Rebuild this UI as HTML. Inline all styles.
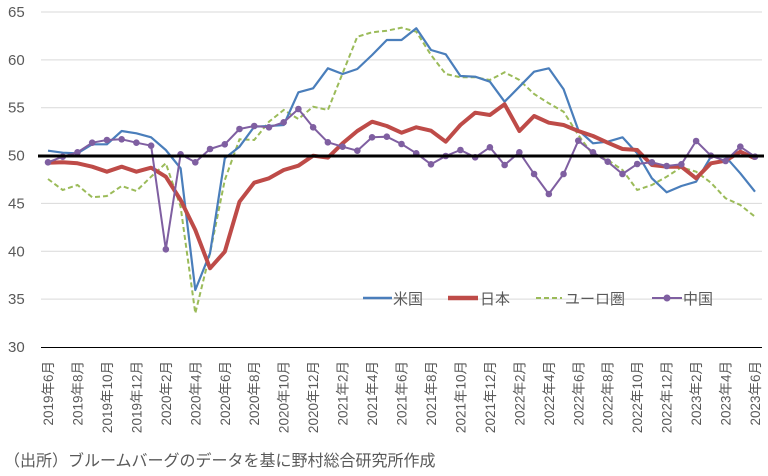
<!DOCTYPE html>
<html><head><meta charset="utf-8"><style>
body{margin:0;background:#fff;width:768px;height:476px;overflow:hidden}
svg{display:block}
text{font-family:"Liberation Sans","Noto Sans CJK JP",sans-serif;fill:#595959}
</style></head><body>
<svg id="c" width="768" height="476" viewBox="0 0 768 476" xmlns="http://www.w3.org/2000/svg">
<g id="grid"></g>
<line x1="41" y1="347.5" x2="762" y2="347.5" stroke="#000" stroke-width="1"/>
<g id="series"></g>
<line x1="38" y1="156" x2="764" y2="156" stroke="#000" stroke-width="3"/>
<g id="labels"></g>
<g>
<line x1="363" y1="298" x2="392" y2="298" stroke="#4a7ebb" stroke-width="2.5"/>
<text x="393" y="304" font-size="15">米国</text>
<line x1="448" y1="298" x2="478" y2="298" stroke="#be4b48" stroke-width="4.5"/>
<text x="480" y="304" font-size="15">日本</text>
<line x1="536" y1="298" x2="562" y2="298" stroke="#9bbb59" stroke-width="2" stroke-dasharray="5,3"/>
<text x="565" y="304" font-size="15">ユーロ圏</text>
<line x1="652" y1="298" x2="682" y2="298" stroke="#7f5fa1" stroke-width="2"/>
<circle cx="667" cy="298" r="3.5" fill="#7f5fa1"/>
<text x="683" y="304" font-size="15">中国</text>
</g>
<text x="4" y="466" font-size="16" fill="#333">（出所）ブルームバーグのデータを基に野村総合研究所作成</text>
</svg>
<script>
var NS="http://www.w3.org/2000/svg";
function el(t,a,p){var e=document.createElementNS(NS,t);for(var k in a)e.setAttribute(k,a[k]);p.appendChild(e);return e;}
var grid=document.getElementById('grid'),ser=document.getElementById('series'),lab=document.getElementById('labels');
function Y(v){return 12+(65-v)*9.571;}
for(var v=30;v<=65;v+=5){var y=Y(v);if(v>30)el('line',{x1:41,y1:y,x2:762,y2:y,stroke:'#d9d9d9','stroke-width':1},grid);
var t=el('text',{x:8,y:y+5,'font-size':15},lab);t.textContent=v;}
function X(i){return 48+14.73*i;}
var us=[452,458,460,433,433,393,400,412,450,505,870,760,475,440,380,378,375,277,265,205,222,207,165,120,120,85,150,163,228,230,245,305,260,215,205,268,390,430,425,412,460,535,577,558,545,470,470,520,575];
var jp=[488,487,490,500,515,500,515,503,530,600,690,805,755,605,548,535,510,497,467,473,430,393,365,378,398,382,392,425,375,338,345,313,393,348,368,375,393,408,428,447,450,495,500,500,535,490,482,455,475];
var eu=[537,570,555,592,588,558,573,530,490,620,940,760,540,418,420,365,330,357,320,330,220,110,97,92,83,95,165,222,232,232,240,217,240,282,310,335,405,465,480,510,570,555,530,502,515,548,595,615,650];
var cn=[487,470,457,428,420,418,428,437,748,463,487,447,433,387,378,382,367,327,382,427,440,452,412,410,432,460,493,468,450,472,442,495,457,522,582,522,422,457,485,522,492,487,498,493,423,467,483,440,470];
function pts(a){return a.map(function(z,i){return X(i).toFixed(1)+','+(z/3).toFixed(1)}).join(' ');}
el('polyline',{points:pts(eu),fill:'none',stroke:'#9bbb59','stroke-width':2,'stroke-dasharray':'5,3'},ser);
el('polyline',{points:pts(us),fill:'none',stroke:'#4a7ebb','stroke-width':2.2,'stroke-linejoin':'round'},ser);
el('polyline',{points:pts(jp),fill:'none',stroke:'#be4b48','stroke-width':4,'stroke-linejoin':'round'},ser);
el('polyline',{points:pts(cn),fill:'none',stroke:'#7f5fa1','stroke-width':2,'stroke-linejoin':'round'},ser);
cn.forEach(function(z,i){el('circle',{cx:X(i),cy:z/3,r:3.3,fill:'#7f5fa1'},ser);});
for(var i=0;i<49;i+=2){var yr=2019+Math.floor((5+i)/12),m=(5+i)%12+1;
var x=X(i)+5;var t=el('text',{x:0,y:0,'font-size':13.5,'text-anchor':'end',transform:'translate('+x+',361) rotate(-90)'},lab);
t.textContent=yr+'年'+m+'月';}
</script>
</body></html>
